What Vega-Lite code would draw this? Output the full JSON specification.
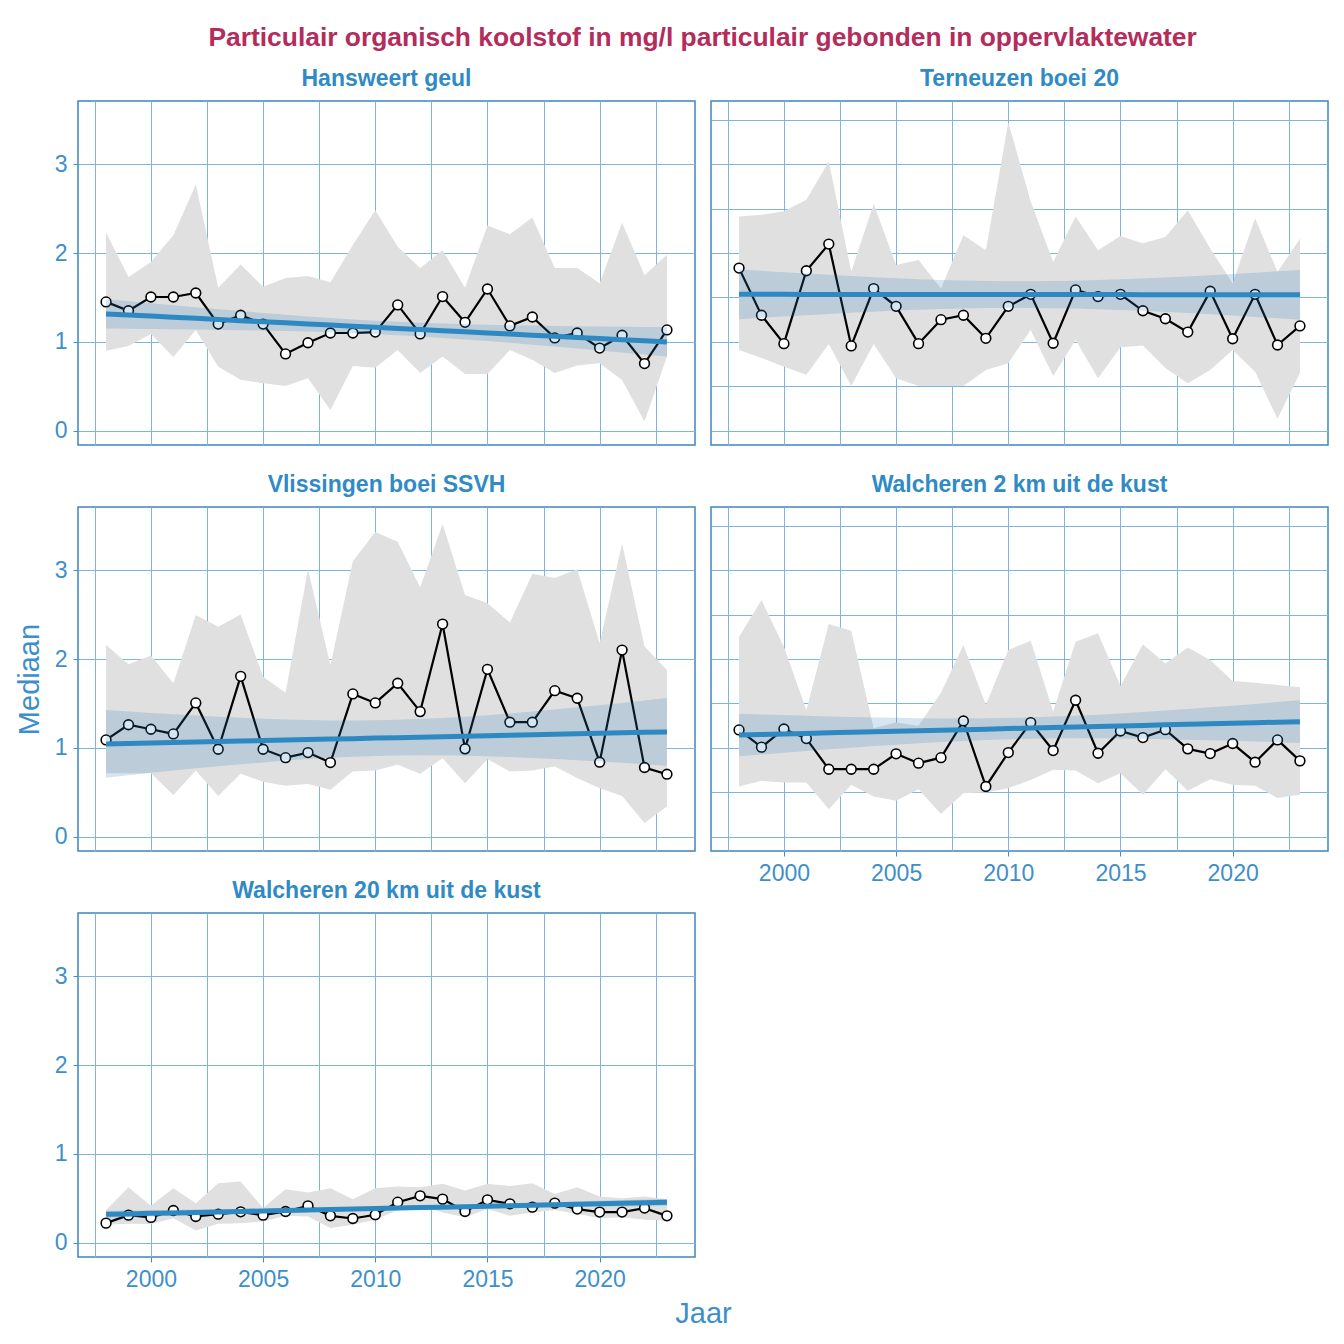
{
  "$schema": "https://vega.github.io/schema/vega-lite/v6.json",
  "background": "white",
  "padding": {"left": 14, "top": 24, "right": 15, "bottom": 10},
  "title": {"text": "Particulair organisch koolstof in mg/l particulair gebonden in oppervlaktewater", "anchor": "middle", "dx": 31, "font": "Liberation Sans", "fontSize": 26.4, "fontWeight": "bold", "color": "#b32c5c", "offset": 16},
  "config": {
    "font": "Liberation Sans",
    "view": {"stroke": "#3c86c0", "strokeWidth": 1.5},
    "title": {"font": "Liberation Sans", "fontSize": 23, "fontWeight": "bold", "color": "#2f8ac6", "offset": 10}
  },
  "columns": 2,
  "spacing": {"row": 62, "column": 16},
  "bounds": "flush",
  "datasets": {
    "d": [
      {"s":"HG","j":1998,"m":1.45,"lo":0.9,"hi":2.23,"t":1.315,"tl":1.15,"th":1.48},
      {"s":"HG","j":1999,"m":1.35,"lo":0.955,"hi":1.73,"t":1.302,"tl":1.148,"th":1.457},
      {"s":"HG","j":2000,"m":1.505,"lo":1.09,"hi":1.9,"t":1.29,"tl":1.145,"th":1.434},
      {"s":"HG","j":2001,"m":1.505,"lo":0.83,"hi":2.2,"t":1.277,"tl":1.143,"th":1.412},
      {"s":"HG","j":2002,"m":1.55,"lo":1.135,"hi":2.77,"t":1.265,"tl":1.14,"th":1.39},
      {"s":"HG","j":2003,"m":1.2,"lo":0.72,"hi":1.61,"t":1.252,"tl":1.136,"th":1.368},
      {"s":"HG","j":2004,"m":1.3,"lo":0.573,"hi":1.87,"t":1.239,"tl":1.132,"th":1.347},
      {"s":"HG","j":2005,"m":1.2,"lo":0.535,"hi":1.62,"t":1.227,"tl":1.128,"th":1.326},
      {"s":"HG","j":2006,"m":0.865,"lo":0.505,"hi":1.72,"t":1.214,"tl":1.122,"th":1.306},
      {"s":"HG","j":2007,"m":0.99,"lo":0.59,"hi":1.74,"t":1.202,"tl":1.116,"th":1.287},
      {"s":"HG","j":2008,"m":1.1,"lo":0.235,"hi":1.67,"t":1.189,"tl":1.108,"th":1.27},
      {"s":"HG","j":2009,"m":1.1,"lo":0.73,"hi":2.09,"t":1.176,"tl":1.099,"th":1.253},
      {"s":"HG","j":2010,"m":1.11,"lo":0.71,"hi":2.48,"t":1.164,"tl":1.089,"th":1.239},
      {"s":"HG","j":2011,"m":1.416,"lo":0.91,"hi":2.07,"t":1.151,"tl":1.076,"th":1.226},
      {"s":"HG","j":2012,"m":1.09,"lo":0.65,"hi":1.83,"t":1.139,"tl":1.062,"th":1.216},
      {"s":"HG","j":2013,"m":1.51,"lo":0.835,"hi":2.03,"t":1.126,"tl":1.045,"th":1.207},
      {"s":"HG","j":2014,"m":1.22,"lo":0.64,"hi":1.61,"t":1.113,"tl":1.028,"th":1.199},
      {"s":"HG","j":2015,"m":1.595,"lo":0.64,"hi":2.31,"t":1.101,"tl":1.009,"th":1.193},
      {"s":"HG","j":2016,"m":1.18,"lo":0.91,"hi":2.21,"t":1.088,"tl":0.989,"th":1.187},
      {"s":"HG","j":2017,"m":1.28,"lo":0.8,"hi":2.4,"t":1.076,"tl":0.969,"th":1.183},
      {"s":"HG","j":2018,"m":1.045,"lo":0.65,"hi":1.83,"t":1.063,"tl":0.947,"th":1.179},
      {"s":"HG","j":2019,"m":1.1,"lo":0.735,"hi":1.83,"t":1.05,"tl":0.925,"th":1.175},
      {"s":"HG","j":2020,"m":0.93,"lo":0.76,"hi":1.66,"t":1.038,"tl":0.903,"th":1.172},
      {"s":"HG","j":2021,"m":1.075,"lo":0.57,"hi":2.34,"t":1.025,"tl":0.881,"th":1.17},
      {"s":"HG","j":2022,"m":0.756,"lo":0.105,"hi":1.75,"t":1.013,"tl":0.858,"th":1.167},
      {"s":"HG","j":2023,"m":1.135,"lo":0.835,"hi":1.98,"t":1.0,"tl":0.835,"th":1.165},

      {"s":"TB","j":1998,"m":1.83,"lo":0.91,"hi":2.41,"t":1.535,"tl":1.255,"th":1.815},
      {"s":"TB","j":1999,"m":1.3,"lo":0.82,"hi":2.43,"t":1.535,"tl":1.271,"th":1.799},
      {"s":"TB","j":2000,"m":0.98,"lo":0.72,"hi":2.47,"t":1.535,"tl":1.286,"th":1.784},
      {"s":"TB","j":2001,"m":1.8,"lo":0.63,"hi":2.6,"t":1.534,"tl":1.3,"th":1.768},
      {"s":"TB","j":2002,"m":2.1,"lo":0.975,"hi":3.03,"t":1.534,"tl":1.314,"th":1.754},
      {"s":"TB","j":2003,"m":0.955,"lo":0.505,"hi":1.79,"t":1.534,"tl":1.328,"th":1.74},
      {"s":"TB","j":2004,"m":1.6,"lo":0.975,"hi":2.55,"t":1.534,"tl":1.34,"th":1.728},
      {"s":"TB","j":2005,"m":1.4,"lo":0.59,"hi":1.865,"t":1.534,"tl":1.352,"th":1.717},
      {"s":"TB","j":2006,"m":0.98,"lo":0.505,"hi":1.92,"t":1.533,"tl":1.361,"th":1.706},
      {"s":"TB","j":2007,"m":1.25,"lo":0.505,"hi":1.6,"t":1.533,"tl":1.369,"th":1.697},
      {"s":"TB","j":2008,"m":1.3,"lo":0.505,"hi":2.2,"t":1.533,"tl":1.376,"th":1.69},
      {"s":"TB","j":2009,"m":1.04,"lo":0.685,"hi":2.03,"t":1.533,"tl":1.38,"th":1.686},
      {"s":"TB","j":2010,"m":1.4,"lo":0.76,"hi":3.47,"t":1.533,"tl":1.383,"th":1.683},
      {"s":"TB","j":2011,"m":1.535,"lo":1.135,"hi":2.58,"t":1.532,"tl":1.382,"th":1.682},
      {"s":"TB","j":2012,"m":0.985,"lo":0.615,"hi":1.9,"t":1.532,"tl":1.379,"th":1.685},
      {"s":"TB","j":2013,"m":1.585,"lo":1.02,"hi":2.41,"t":1.532,"tl":1.375,"th":1.689},
      {"s":"TB","j":2014,"m":1.51,"lo":0.59,"hi":2.03,"t":1.532,"tl":1.368,"th":1.696},
      {"s":"TB","j":2015,"m":1.535,"lo":0.94,"hi":2.19,"t":1.532,"tl":1.36,"th":1.705},
      {"s":"TB","j":2016,"m":1.35,"lo":0.96,"hi":2.11,"t":1.531,"tl":1.349,"th":1.714},
      {"s":"TB","j":2017,"m":1.26,"lo":0.705,"hi":2.18,"t":1.531,"tl":1.337,"th":1.725},
      {"s":"TB","j":2018,"m":1.11,"lo":0.535,"hi":2.48,"t":1.531,"tl":1.325,"th":1.737},
      {"s":"TB","j":2019,"m":1.57,"lo":0.685,"hi":2.05,"t":1.531,"tl":1.311,"th":1.751},
      {"s":"TB","j":2020,"m":1.035,"lo":0.91,"hi":1.66,"t":1.531,"tl":1.297,"th":1.765},
      {"s":"TB","j":2021,"m":1.535,"lo":0.665,"hi":2.39,"t":1.53,"tl":1.281,"th":1.779},
      {"s":"TB","j":2022,"m":0.965,"lo":0.135,"hi":1.79,"t":1.53,"tl":1.266,"th":1.794},
      {"s":"TB","j":2023,"m":1.18,"lo":0.65,"hi":2.16,"t":1.53,"tl":1.25,"th":1.81},

      {"s":"VB","j":1998,"m":1.09,"lo":0.715,"hi":2.157,"t":1.045,"tl":0.665,"th":1.425},
      {"s":"VB","j":1999,"m":1.26,"lo":0.715,"hi":1.94,"t":1.05,"tl":0.692,"th":1.409},
      {"s":"VB","j":2000,"m":1.21,"lo":0.715,"hi":2.04,"t":1.056,"tl":0.719,"th":1.393},
      {"s":"VB","j":2001,"m":1.157,"lo":0.47,"hi":1.727,"t":1.061,"tl":0.745,"th":1.378},
      {"s":"VB","j":2002,"m":1.506,"lo":0.745,"hi":2.494,"t":1.067,"tl":0.77,"th":1.364},
      {"s":"VB","j":2003,"m":0.985,"lo":0.46,"hi":2.363,"t":1.072,"tl":0.794,"th":1.351},
      {"s":"VB","j":2004,"m":1.805,"lo":0.708,"hi":2.5,"t":1.077,"tl":0.816,"th":1.339},
      {"s":"VB","j":2005,"m":0.985,"lo":0.62,"hi":1.8,"t":1.083,"tl":0.837,"th":1.328},
      {"s":"VB","j":2006,"m":0.89,"lo":0.573,"hi":1.62,"t":1.088,"tl":0.857,"th":1.32},
      {"s":"VB","j":2007,"m":0.947,"lo":0.595,"hi":3.01,"t":1.094,"tl":0.874,"th":1.313},
      {"s":"VB","j":2008,"m":0.835,"lo":0.528,"hi":1.93,"t":1.099,"tl":0.889,"th":1.309},
      {"s":"VB","j":2009,"m":1.607,"lo":0.734,"hi":3.1,"t":1.104,"tl":0.901,"th":1.308},
      {"s":"VB","j":2010,"m":1.506,"lo":0.745,"hi":3.43,"t":1.11,"tl":0.909,"th":1.31},
      {"s":"VB","j":2011,"m":1.727,"lo":0.81,"hi":3.32,"t":1.115,"tl":0.915,"th":1.316},
      {"s":"VB","j":2012,"m":1.408,"lo":0.708,"hi":2.805,"t":1.121,"tl":0.917,"th":1.324},
      {"s":"VB","j":2013,"m":2.393,"lo":0.884,"hi":3.52,"t":1.126,"tl":0.916,"th":1.336},
      {"s":"VB","j":2014,"m":0.989,"lo":0.603,"hi":2.72,"t":1.131,"tl":0.912,"th":1.351},
      {"s":"VB","j":2015,"m":1.884,"lo":0.873,"hi":2.626,"t":1.137,"tl":0.905,"th":1.368},
      {"s":"VB","j":2016,"m":1.289,"lo":0.734,"hi":2.41,"t":1.142,"tl":0.897,"th":1.388},
      {"s":"VB","j":2017,"m":1.289,"lo":0.745,"hi":2.96,"t":1.148,"tl":0.886,"th":1.409},
      {"s":"VB","j":2018,"m":1.644,"lo":0.79,"hi":2.91,"t":1.153,"tl":0.875,"th":1.432},
      {"s":"VB","j":2019,"m":1.558,"lo":0.66,"hi":3.01,"t":1.158,"tl":0.861,"th":1.456},
      {"s":"VB","j":2020,"m":0.839,"lo":0.547,"hi":2.18,"t":1.164,"tl":0.847,"th":1.481},
      {"s":"VB","j":2021,"m":2.1,"lo":0.46,"hi":3.3,"t":1.169,"tl":0.832,"th":1.506},
      {"s":"VB","j":2022,"m":0.779,"lo":0.154,"hi":2.14,"t":1.175,"tl":0.816,"th":1.533},
      {"s":"VB","j":2023,"m":0.704,"lo":0.34,"hi":1.876,"t":1.18,"tl":0.8,"th":1.56},

      {"s":"W2","j":1998,"m":1.202,"lo":0.566,"hi":2.25,"t":1.145,"tl":0.905,"th":1.385},
      {"s":"W2","j":1999,"m":1.008,"lo":0.629,"hi":2.663,"t":1.151,"tl":0.925,"th":1.377},
      {"s":"W2","j":2000,"m":1.213,"lo":0.61,"hi":2.138,"t":1.157,"tl":0.945,"th":1.369},
      {"s":"W2","j":2001,"m":1.105,"lo":0.61,"hi":1.427,"t":1.163,"tl":0.965,"th":1.361},
      {"s":"W2","j":2002,"m":0.76,"lo":0.311,"hi":2.393,"t":1.169,"tl":0.984,"th":1.354},
      {"s":"W2","j":2003,"m":0.76,"lo":0.584,"hi":2.318,"t":1.175,"tl":1.002,"th":1.348},
      {"s":"W2","j":2004,"m":0.76,"lo":0.453,"hi":1.221,"t":1.181,"tl":1.02,"th":1.343},
      {"s":"W2","j":2005,"m":0.933,"lo":0.404,"hi":1.285,"t":1.187,"tl":1.036,"th":1.338},
      {"s":"W2","j":2006,"m":0.828,"lo":0.536,"hi":1.25,"t":1.193,"tl":1.052,"th":1.334},
      {"s":"W2","j":2007,"m":0.89,"lo":0.255,"hi":1.62,"t":1.199,"tl":1.066,"th":1.332},
      {"s":"W2","j":2008,"m":1.303,"lo":0.49,"hi":2.157,"t":1.205,"tl":1.078,"th":1.332},
      {"s":"W2","j":2009,"m":0.566,"lo":0.498,"hi":1.483,"t":1.211,"tl":1.088,"th":1.334},
      {"s":"W2","j":2010,"m":0.947,"lo":0.547,"hi":2.1,"t":1.217,"tl":1.097,"th":1.337},
      {"s":"W2","j":2011,"m":1.285,"lo":0.64,"hi":2.206,"t":1.223,"tl":1.103,"th":1.343},
      {"s":"W2","j":2012,"m":0.97,"lo":0.753,"hi":1.408,"t":1.229,"tl":1.106,"th":1.352},
      {"s":"W2","j":2013,"m":1.536,"lo":0.745,"hi":2.195,"t":1.235,"tl":1.108,"th":1.362},
      {"s":"W2","j":2014,"m":0.94,"lo":0.603,"hi":2.29,"t":1.241,"tl":1.108,"th":1.374},
      {"s":"W2","j":2015,"m":1.19,"lo":0.715,"hi":1.697,"t":1.247,"tl":1.106,"th":1.388},
      {"s":"W2","j":2016,"m":1.116,"lo":0.472,"hi":2.165,"t":1.253,"tl":1.102,"th":1.404},
      {"s":"W2","j":2017,"m":1.205,"lo":0.76,"hi":1.95,"t":1.259,"tl":1.098,"th":1.421},
      {"s":"W2","j":2018,"m":0.989,"lo":0.517,"hi":2.13,"t":1.265,"tl":1.092,"th":1.438},
      {"s":"W2","j":2019,"m":0.936,"lo":0.648,"hi":1.99,"t":1.271,"tl":1.086,"th":1.456},
      {"s":"W2","j":2020,"m":1.049,"lo":0.584,"hi":1.753,"t":1.277,"tl":1.079,"th":1.475},
      {"s":"W2","j":2021,"m":0.839,"lo":0.573,"hi":1.734,"t":1.283,"tl":1.071,"th":1.495},
      {"s":"W2","j":2022,"m":1.09,"lo":0.435,"hi":1.708,"t":1.289,"tl":1.063,"th":1.515},
      {"s":"W2","j":2023,"m":0.854,"lo":0.472,"hi":1.682,"t":1.295,"tl":1.055,"th":1.535},

      {"s":"W20","j":1998,"m":0.221,"lo":0.202,"hi":0.37,"t":0.32,"tl":0.28,"th":0.36},
      {"s":"W20","j":1999,"m":0.311,"lo":0.213,"hi":0.626,"t":0.325,"tl":0.288,"th":0.363},
      {"s":"W20","j":2000,"m":0.285,"lo":0.21,"hi":0.416,"t":0.331,"tl":0.296,"th":0.366},
      {"s":"W20","j":2001,"m":0.363,"lo":0.277,"hi":0.614,"t":0.336,"tl":0.303,"th":0.369},
      {"s":"W20","j":2002,"m":0.296,"lo":0.139,"hi":0.446,"t":0.342,"tl":0.311,"th":0.373},
      {"s":"W20","j":2003,"m":0.322,"lo":0.213,"hi":0.67,"t":0.347,"tl":0.318,"th":0.376},
      {"s":"W20","j":2004,"m":0.348,"lo":0.221,"hi":0.689,"t":0.352,"tl":0.326,"th":0.379},
      {"s":"W20","j":2005,"m":0.311,"lo":0.24,"hi":0.39,"t":0.358,"tl":0.333,"th":0.383},
      {"s":"W20","j":2006,"m":0.352,"lo":0.303,"hi":0.603,"t":0.363,"tl":0.34,"th":0.387},
      {"s":"W20","j":2007,"m":0.416,"lo":0.296,"hi":0.566,"t":0.369,"tl":0.346,"th":0.391},
      {"s":"W20","j":2008,"m":0.303,"lo":0.165,"hi":0.614,"t":0.374,"tl":0.353,"th":0.395},
      {"s":"W20","j":2009,"m":0.273,"lo":0.202,"hi":0.491,"t":0.379,"tl":0.359,"th":0.4},
      {"s":"W20","j":2010,"m":0.315,"lo":0.258,"hi":0.614,"t":0.385,"tl":0.365,"th":0.405},
      {"s":"W20","j":2011,"m":0.457,"lo":0.37,"hi":0.633,"t":0.39,"tl":0.37,"th":0.41},
      {"s":"W20","j":2012,"m":0.528,"lo":0.416,"hi":0.626,"t":0.396,"tl":0.375,"th":0.416},
      {"s":"W20","j":2013,"m":0.491,"lo":0.341,"hi":0.663,"t":0.401,"tl":0.38,"th":0.422},
      {"s":"W20","j":2014,"m":0.352,"lo":0.288,"hi":0.588,"t":0.406,"tl":0.384,"th":0.429},
      {"s":"W20","j":2015,"m":0.483,"lo":0.379,"hi":0.663,"t":0.412,"tl":0.388,"th":0.435},
      {"s":"W20","j":2016,"m":0.438,"lo":0.303,"hi":0.64,"t":0.417,"tl":0.392,"th":0.442},
      {"s":"W20","j":2017,"m":0.401,"lo":0.341,"hi":0.67,"t":0.423,"tl":0.396,"th":0.45},
      {"s":"W20","j":2018,"m":0.446,"lo":0.37,"hi":0.55,"t":0.428,"tl":0.399,"th":0.457},
      {"s":"W20","j":2019,"m":0.379,"lo":0.326,"hi":0.626,"t":0.433,"tl":0.402,"th":0.464},
      {"s":"W20","j":2020,"m":0.345,"lo":0.277,"hi":0.52,"t":0.439,"tl":0.406,"th":0.472},
      {"s":"W20","j":2021,"m":0.345,"lo":0.288,"hi":0.502,"t":0.444,"tl":0.409,"th":0.48},
      {"s":"W20","j":2022,"m":0.39,"lo":0.258,"hi":0.52,"t":0.45,"tl":0.412,"th":0.487},
      {"s":"W20","j":2023,"m":0.303,"lo":0.25,"hi":0.491,"t":0.455,"tl":0.415,"th":0.495}
    ]
  },
  "concat": [
    {
      "title": "Hansweert geul",
      "width": 617, "height": 344,
      "data": {"name": "d"},
      "transform": [{"filter": "datum.s === 'HG'"}],
      "encoding": {"x": {"field": "j", "type": "quantitative", "scale": {"domain": [1996.75, 2024.25], "nice": false, "zero": false}, "axis": {"values": [1997.5,2000,2002.5,2005,2007.5,2010,2012.5,2015,2017.5,2020,2022.5], "labels": false, "ticks": false, "domain": false, "grid": true, "gridColor": "#7db5dc", "gridWidth": 1, "title": null}}},
      "layer": [
        {"mark": {"type": "area", "color": "#e0e0e0"}, "encoding": {"y": {"field": "lo", "type": "quantitative", "title": null, "scale": {"domain": [-0.16, 3.71], "nice": false, "zero": false}, "axis": {"values": [0,0.5,1,1.5,2,2.5,3,3.5], "format": "d", "labelExpr": "datum.value % 1 == 0 ? datum.label : ''", "tickColor": {"condition": {"test": "datum.value % 1 != 0", "value": "transparent"}, "value": "#3d8fc9"}, "tickSize": 5, "labelFontSize": 23, "labelColor": "#3d8fc9", "labelPadding": 6, "domain": false, "grid": true, "gridColor": "#7db5dc", "gridWidth": 1, "title": null}}, "y2": {"field": "hi"}}},
        {"mark": {"type": "line", "color": "black", "strokeWidth": 2.2}, "encoding": {"y": {"field": "m", "type": "quantitative", "title": null, "scale": {"domain": [-0.16, 3.71], "nice": false, "zero": false}}}},
        {"mark": {"type": "point", "shape": "circle", "filled": true, "fill": "white", "stroke": "black", "strokeWidth": 1.6, "size": 95, "opacity": 1}, "encoding": {"y": {"field": "m", "type": "quantitative", "title": null, "scale": {"domain": [-0.16, 3.71], "nice": false, "zero": false}}}},
        {"mark": {"type": "area", "color": "#2c7fb8", "opacity": 0.2}, "encoding": {"y": {"field": "tl", "type": "quantitative", "title": null, "scale": {"domain": [-0.16, 3.71], "nice": false, "zero": false}}, "y2": {"field": "th"}}},
        {"mark": {"type": "line", "color": "#2e89c2", "strokeWidth": 5}, "encoding": {"y": {"field": "t", "type": "quantitative", "title": null, "scale": {"domain": [-0.16, 3.71], "nice": false, "zero": false}}}}
      ]
    },
    {
      "title": "Terneuzen boei 20",
      "width": 617, "height": 344,
      "data": {"name": "d"},
      "transform": [{"filter": "datum.s === 'TB'"}],
      "encoding": {"x": {"field": "j", "type": "quantitative", "scale": {"domain": [1996.75, 2024.25], "nice": false, "zero": false}, "axis": {"values": [1997.5,2000,2002.5,2005,2007.5,2010,2012.5,2015,2017.5,2020,2022.5], "labels": false, "ticks": false, "domain": false, "grid": true, "gridColor": "#7db5dc", "gridWidth": 1, "title": null}}},
      "layer": [
        {"mark": {"type": "area", "color": "#e0e0e0"}, "encoding": {"y": {"field": "lo", "type": "quantitative", "title": null, "scale": {"domain": [-0.16, 3.71], "nice": false, "zero": false}, "axis": {"values": [0,0.5,1,1.5,2,2.5,3,3.5], "labels": false, "ticks": false, "domain": false, "grid": true, "gridColor": "#7db5dc", "gridWidth": 1, "title": null}}, "y2": {"field": "hi"}}},
        {"mark": {"type": "line", "color": "black", "strokeWidth": 2.2}, "encoding": {"y": {"field": "m", "type": "quantitative", "title": null, "scale": {"domain": [-0.16, 3.71], "nice": false, "zero": false}}}},
        {"mark": {"type": "point", "shape": "circle", "filled": true, "fill": "white", "stroke": "black", "strokeWidth": 1.6, "size": 95, "opacity": 1}, "encoding": {"y": {"field": "m", "type": "quantitative", "title": null, "scale": {"domain": [-0.16, 3.71], "nice": false, "zero": false}}}},
        {"mark": {"type": "area", "color": "#2c7fb8", "opacity": 0.2}, "encoding": {"y": {"field": "tl", "type": "quantitative", "title": null, "scale": {"domain": [-0.16, 3.71], "nice": false, "zero": false}}, "y2": {"field": "th"}}},
        {"mark": {"type": "line", "color": "#2e89c2", "strokeWidth": 5}, "encoding": {"y": {"field": "t", "type": "quantitative", "title": null, "scale": {"domain": [-0.16, 3.71], "nice": false, "zero": false}}}}
      ]
    },
    {
      "title": "Vlissingen boei SSVH",
      "width": 617, "height": 344,
      "data": {"name": "d"},
      "transform": [{"filter": "datum.s === 'VB'"}],
      "encoding": {"x": {"field": "j", "type": "quantitative", "scale": {"domain": [1996.75, 2024.25], "nice": false, "zero": false}, "axis": {"values": [1997.5,2000,2002.5,2005,2007.5,2010,2012.5,2015,2017.5,2020,2022.5], "labels": false, "ticks": false, "domain": false, "grid": true, "gridColor": "#7db5dc", "gridWidth": 1, "title": null}}},
      "layer": [
        {"mark": {"type": "area", "color": "#e0e0e0"}, "encoding": {"y": {"field": "lo", "type": "quantitative", "title": "Mediaan", "scale": {"domain": [-0.16, 3.71], "nice": false, "zero": false}, "axis": {"values": [0,0.5,1,1.5,2,2.5,3,3.5], "format": "d", "labelExpr": "datum.value % 1 == 0 ? datum.label : ''", "tickColor": {"condition": {"test": "datum.value % 1 != 0", "value": "transparent"}, "value": "#3d8fc9"}, "tickSize": 5, "labelFontSize": 23, "labelColor": "#3d8fc9", "labelPadding": 6, "domain": false, "grid": true, "gridColor": "#7db5dc", "gridWidth": 1, "title": "Mediaan", "titleFontSize": 29, "titleFontWeight": "normal", "titleColor": "#3d8fc9", "titlePadding": 10}}, "y2": {"field": "hi"}}},
        {"mark": {"type": "line", "color": "black", "strokeWidth": 2.2}, "encoding": {"y": {"field": "m", "type": "quantitative", "title": "Mediaan", "scale": {"domain": [-0.16, 3.71], "nice": false, "zero": false}}}},
        {"mark": {"type": "point", "shape": "circle", "filled": true, "fill": "white", "stroke": "black", "strokeWidth": 1.6, "size": 95, "opacity": 1}, "encoding": {"y": {"field": "m", "type": "quantitative", "title": "Mediaan", "scale": {"domain": [-0.16, 3.71], "nice": false, "zero": false}}}},
        {"mark": {"type": "area", "color": "#2c7fb8", "opacity": 0.2}, "encoding": {"y": {"field": "tl", "type": "quantitative", "title": "Mediaan", "scale": {"domain": [-0.16, 3.71], "nice": false, "zero": false}}, "y2": {"field": "th"}}},
        {"mark": {"type": "line", "color": "#2e89c2", "strokeWidth": 5}, "encoding": {"y": {"field": "t", "type": "quantitative", "title": "Mediaan", "scale": {"domain": [-0.16, 3.71], "nice": false, "zero": false}}}}
      ]
    },
    {
      "title": "Walcheren 2 km uit de kust",
      "width": 617, "height": 344,
      "data": {"name": "d"},
      "transform": [{"filter": "datum.s === 'W2'"}],
      "encoding": {"x": {"field": "j", "type": "quantitative", "scale": {"domain": [1996.75, 2024.25], "nice": false, "zero": false}, "axis": {"values": [1997.5,2000,2002.5,2005,2007.5,2010,2012.5,2015,2017.5,2020,2022.5], "format": "d", "labelExpr": "datum.value % 5 == 0 ? datum.label : ''", "tickColor": {"condition": {"test": "datum.value % 5 != 0", "value": "transparent"}, "value": "#3d8fc9"}, "tickSize": 5, "labelFontSize": 23, "labelColor": "#3d8fc9", "labelPadding": 6, "domain": false, "grid": true, "gridColor": "#7db5dc", "gridWidth": 1, "title": null}}},
      "layer": [
        {"mark": {"type": "area", "color": "#e0e0e0"}, "encoding": {"y": {"field": "lo", "type": "quantitative", "title": null, "scale": {"domain": [-0.16, 3.71], "nice": false, "zero": false}, "axis": {"values": [0,0.5,1,1.5,2,2.5,3,3.5], "labels": false, "ticks": false, "domain": false, "grid": true, "gridColor": "#7db5dc", "gridWidth": 1, "title": null}}, "y2": {"field": "hi"}}},
        {"mark": {"type": "line", "color": "black", "strokeWidth": 2.2}, "encoding": {"y": {"field": "m", "type": "quantitative", "title": null, "scale": {"domain": [-0.16, 3.71], "nice": false, "zero": false}}}},
        {"mark": {"type": "point", "shape": "circle", "filled": true, "fill": "white", "stroke": "black", "strokeWidth": 1.6, "size": 95, "opacity": 1}, "encoding": {"y": {"field": "m", "type": "quantitative", "title": null, "scale": {"domain": [-0.16, 3.71], "nice": false, "zero": false}}}},
        {"mark": {"type": "area", "color": "#2c7fb8", "opacity": 0.2}, "encoding": {"y": {"field": "tl", "type": "quantitative", "title": null, "scale": {"domain": [-0.16, 3.71], "nice": false, "zero": false}}, "y2": {"field": "th"}}},
        {"mark": {"type": "line", "color": "#2e89c2", "strokeWidth": 5}, "encoding": {"y": {"field": "t", "type": "quantitative", "title": null, "scale": {"domain": [-0.16, 3.71], "nice": false, "zero": false}}}}
      ]
    },
    {
      "title": "Walcheren 20 km uit de kust",
      "width": 617, "height": 344,
      "data": {"name": "d"},
      "transform": [{"filter": "datum.s === 'W20'"}],
      "encoding": {"x": {"field": "j", "type": "quantitative", "scale": {"domain": [1996.75, 2024.25], "nice": false, "zero": false}, "axis": {"values": [1997.5,2000,2002.5,2005,2007.5,2010,2012.5,2015,2017.5,2020,2022.5], "format": "d", "labelExpr": "datum.value % 5 == 0 ? datum.label : ''", "tickColor": {"condition": {"test": "datum.value % 5 != 0", "value": "transparent"}, "value": "#3d8fc9"}, "tickSize": 5, "labelFontSize": 23, "labelColor": "#3d8fc9", "labelPadding": 6, "domain": false, "grid": true, "gridColor": "#7db5dc", "gridWidth": 1, "title": "Jaar", "titleX": 625, "titleFontSize": 29, "titleFontWeight": "normal", "titleColor": "#3d8fc9", "titlePadding": 8}}},
      "layer": [
        {"mark": {"type": "area", "color": "#e0e0e0"}, "encoding": {"y": {"field": "lo", "type": "quantitative", "title": null, "scale": {"domain": [-0.16, 3.71], "nice": false, "zero": false}, "axis": {"values": [0,0.5,1,1.5,2,2.5,3,3.5], "format": "d", "labelExpr": "datum.value % 1 == 0 ? datum.label : ''", "tickColor": {"condition": {"test": "datum.value % 1 != 0", "value": "transparent"}, "value": "#3d8fc9"}, "tickSize": 5, "labelFontSize": 23, "labelColor": "#3d8fc9", "labelPadding": 6, "domain": false, "grid": true, "gridColor": "#7db5dc", "gridWidth": 1, "title": null}}, "y2": {"field": "hi"}}},
        {"mark": {"type": "line", "color": "black", "strokeWidth": 2.2}, "encoding": {"y": {"field": "m", "type": "quantitative", "title": null, "scale": {"domain": [-0.16, 3.71], "nice": false, "zero": false}}}},
        {"mark": {"type": "point", "shape": "circle", "filled": true, "fill": "white", "stroke": "black", "strokeWidth": 1.6, "size": 95, "opacity": 1}, "encoding": {"y": {"field": "m", "type": "quantitative", "title": null, "scale": {"domain": [-0.16, 3.71], "nice": false, "zero": false}}}},
        {"mark": {"type": "area", "color": "#2c7fb8", "opacity": 0.2}, "encoding": {"y": {"field": "tl", "type": "quantitative", "title": null, "scale": {"domain": [-0.16, 3.71], "nice": false, "zero": false}}, "y2": {"field": "th"}}},
        {"mark": {"type": "line", "color": "#2e89c2", "strokeWidth": 5}, "encoding": {"y": {"field": "t", "type": "quantitative", "title": null, "scale": {"domain": [-0.16, 3.71], "nice": false, "zero": false}}}}
      ]
    }
  ]
}
